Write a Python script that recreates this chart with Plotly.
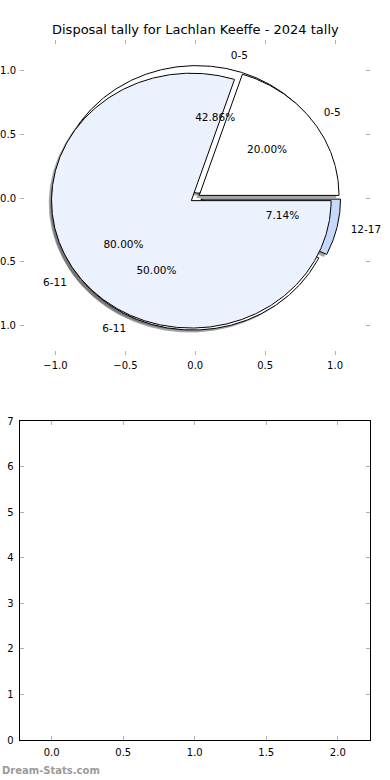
import numpy as np
import plotly.graph_objects as go

# ---------------- data ----------------
chart_title = "Disposal tally for Lachlan Keeffe - 2024 tally"
pie1_labels = ["0-5", "6-11", "12-17"]
pie1_values = [6, 7, 1]
pie2_labels = ["0-5", "6-11"]
pie2_values = [1, 4]
pie_xticks = [-1.0, -0.5, 0.0, 0.5, 1.0]
pie_yticks = [-1.0, -0.5, 0.0, 0.5, 1.0]
empty_xticks = [0.0, 0.5, 1.0, 1.5, 2.0]
empty_yticks = [0, 1, 2, 3, 4, 5, 6, 7]
watermark = "Dream-Stats.com"

# ---------------- styles ----------------
pie1_colors = ["#ffffff", "#ffffff", "#c6d9fa"]
pie2_colors = ["#ffffff", "#ebf1fd"]
EXPLODE1 = 0.04
EXPLODE2 = 0.035
SHADOW_OFF = (-0.02, -0.02)
FONT = "DejaVu Sans"
TICKC = "#b0b0b0"


def wedges(values, explode):
    vals = np.asarray(values, dtype=float)
    fr = vals / vals.sum()
    edges = np.concatenate([[0.0], np.cumsum(fr)]) * 360.0
    out = []
    for i in range(len(vals)):
        t1, t2 = edges[i], edges[i + 1]
        tm = np.deg2rad((t1 + t2) / 2)
        cx, cy = explode * np.cos(tm), explode * np.sin(tm)
        out.append((t1, t2, tm, cx, cy, fr[i]))
    return out


def poly(t1, t2, cx, cy, dx=0.0, dy=0.0):
    th = np.deg2rad(np.linspace(t1, t2, max(8, int(abs(t2 - t1) * 2))))
    xs = np.concatenate([[cx], cx + np.cos(th), [cx]]) + dx
    ys = np.concatenate([[cy], cy + np.sin(th), [cy]]) + dy
    return xs, ys


fig = go.Figure()

w1 = wedges(pie1_values, EXPLODE1)
w2 = wedges(pie2_values, EXPLODE2)

# shadows (beneath all wedges)
for ws, cols in ((w1, pie1_colors), (w2, pie2_colors)):
    for (t1, t2, tm, cx, cy, f), c in zip(ws, cols):
        xs, ys = poly(t1, t2, cx, cy, *SHADOW_OFF)
        fig.add_trace(go.Scatter(x=xs, y=ys, mode="lines", fill="toself",
                                 fillcolor="rgba(75,76,78,0.5)",
                                 line=dict(width=0), hoverinfo="skip",
                                 showlegend=False, xaxis="x", yaxis="y"))

# wedges
for ws, cols in ((w1, pie1_colors), (w2, pie2_colors)):
    for (t1, t2, tm, cx, cy, f), c in zip(ws, cols):
        xs, ys = poly(t1, t2, cx, cy)
        fig.add_trace(go.Scatter(x=xs, y=ys, mode="lines", fill="toself",
                                 fillcolor=c, line=dict(color="black", width=1),
                                 hoverinfo="skip", showlegend=False,
                                 xaxis="x", yaxis="y"))

# labels and percentages
for ws, labels in ((w1, pie1_labels), (w2, pie2_labels)):
    for (t1, t2, tm, cx, cy, f), lab in zip(ws, labels):
        xt = cx + 1.1 * np.cos(tm)
        yt = cy + 1.1 * np.sin(tm)
        pos = "middle right" if xt > 0 else "middle left"
        fig.add_trace(go.Scatter(x=[xt], y=[yt], mode="text", text=[lab],
                                 textposition=pos, cliponaxis=False,
                                 textfont=dict(family=FONT, size=10.5, color="black"),
                                 hoverinfo="skip", showlegend=False,
                                 xaxis="x", yaxis="y"))
        xp = cx + 0.6 * np.cos(tm)
        yp = cy + 0.6 * np.sin(tm)
        fig.add_trace(go.Scatter(x=[xp], y=[yp], mode="text",
                                 text=["%.2f%%" % (f * 100)],
                                 textposition="middle center", cliponaxis=False,
                                 textfont=dict(family=FONT, size=10.5, color="black"),
                                 hoverinfo="skip", showlegend=False,
                                 xaxis="x", yaxis="y"))

# empty lower axes
fig.add_trace(go.Scatter(x=[None], y=[None], mode="markers", showlegend=False,
                         hoverinfo="skip", xaxis="x2", yaxis="y2"))

axis_common = dict(ticks="inside", ticklen=4, tickwidth=1, tickcolor=TICKC,
                   mirror="ticks", showgrid=False, zeroline=False,
                   automargin=False, ticklabelstandoff=3,
                   tickfont=dict(family=FONT, size=10, color="black"))

fig.update_layout(
    width=390, height=780,
    margin=dict(l=0, r=0, t=0, b=0),
    paper_bgcolor="white", plot_bgcolor="white",
    template="none",
    showlegend=False,
    xaxis=dict(domain=[20 / 390, 370 / 390], range=[-1.254, 1.25],
               anchor="y", tickvals=pie_xticks, tickformat=".1f",
               showline=False, **axis_common),
    yaxis=dict(domain=[1 - 355 / 780, 1 - 40 / 780], range=[-1.232, 1.24],
               anchor="x", tickvals=pie_yticks, tickformat=".1f",
               showline=False, **axis_common),
    xaxis2=dict(domain=[19.5 / 390, 370 / 390], range=[-0.225, 2.225],
                anchor="y2", tickvals=empty_xticks, tickformat=".1f",
                showline=True, linecolor="black", linewidth=1, **axis_common),
    yaxis2=dict(domain=[1 - 740 / 780, 1 - 421 / 780], range=[0, 7],
                anchor="x2", tickvals=empty_yticks, tickformat="d",
                showline=True, linecolor="black", linewidth=1, **axis_common),
    annotations=[
        dict(text=chart_title, x=195 / 390, y=1 - 30 / 780, xref="paper",
             yref="paper", showarrow=False, xanchor="center", yanchor="middle",
             font=dict(family=FONT, size=13, color="black")),
        dict(text="<b>" + watermark + "</b>", x=0, y=1 - 770 / 780,
             xref="paper", yref="paper", showarrow=False, xanchor="left",
             yanchor="middle",
             font=dict(family="DejaVu Sans", size=10, color="#9a9a9a")),
    ],
)

fig.write_html("out.html")
